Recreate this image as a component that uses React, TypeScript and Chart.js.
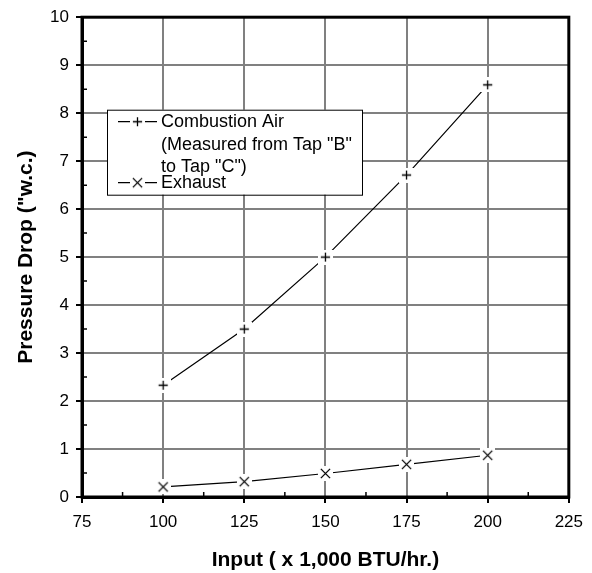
import React, { useEffect, useRef } from 'react';
import { Chart, registerables } from 'chart.js';

Chart.register(...registerables);

// ---- data ----
const inputs = [100, 125, 150, 175, 200];
const combustionAir = [2.33, 3.5, 5.0, 6.71, 8.59];
const exhaust = [0.21, 0.32, 0.49, 0.68, 0.87];
const seriesLabels = ['Combustion Air', 'Exhaust'];
const legendText = [['Combustion Air', '(Measured from Tap "B"', 'to Tap "C")'], ['Exhaust']];
const xTitle = 'Input ( x 1,000 BTU/hr.)';
const yTitle = 'Pressure Drop ("w.c.)';
const xRange = [75, 225];
const yRange = [0, 10];
const xStep = 25;
const yStep = 1;

const FONT = '"Liberation Sans", Arial, Helvetica, sans-serif';

function makeMarker(kind: 'plus' | 'cross'): HTMLCanvasElement {
  const s = 15;
  const c = document.createElement('canvas');
  c.width = s;
  c.height = s;
  const ctx = c.getContext('2d')!;
  ctx.fillStyle = '#ffffff';
  ctx.fillRect(0, 0, s, s);
  ctx.strokeStyle = '#000000';
  ctx.lineWidth = 1.3;
  const m = s / 2;
  const r = 4.6;
  ctx.beginPath();
  if (kind === 'plus') {
    ctx.moveTo(m - r, m);
    ctx.lineTo(m + r, m);
    ctx.moveTo(m, m - r);
    ctx.lineTo(m, m + r);
  } else {
    ctx.moveTo(m - r, m - r);
    ctx.lineTo(m + r, m + r);
    ctx.moveTo(m + r, m - r);
    ctx.lineTo(m - r, m + r);
  }
  ctx.stroke();
  return c;
}

const framePlugin = {
  id: 'frameAndMinor',
  afterDatasetsDraw(chart: any) {
    const { ctx, chartArea, scales } = chart;
    const xs = scales.x;
    const ys = scales.y;
    ctx.save();
    ctx.strokeStyle = '#000';
    ctx.lineWidth = 1.5;
    ctx.beginPath();
    for (let v = yRange[0] + yStep / 2; v < yRange[1]; v += yStep) {
      const py = ys.getPixelForValue(v);
      ctx.moveTo(chartArea.left, py);
      ctx.lineTo(chartArea.left + 5, py);
    }
    for (let v = xRange[0] + xStep / 2; v < xRange[1]; v += xStep) {
      const px = xs.getPixelForValue(v);
      ctx.moveTo(px, chartArea.bottom);
      ctx.lineTo(px, chartArea.bottom - 5);
    }
    ctx.stroke();
    ctx.lineWidth = 3;
    ctx.strokeRect(chartArea.left, chartArea.top, chartArea.right - chartArea.left, chartArea.bottom - chartArea.top);
    ctx.restore();
  },
};

const legendPlugin = {
  id: 'boxLegend',
  afterDraw(chart: any) {
    const { ctx, chartArea } = chart;
    const left = chartArea.left + 25;
    const top = chartArea.top + 92.5;
    const w = 255;
    const h = 85;
    ctx.save();
    ctx.fillStyle = '#fff';
    ctx.fillRect(left, top, w, h);
    ctx.strokeStyle = '#000';
    ctx.lineWidth = 1;
    ctx.strokeRect(left + 0.5, top + 0.5, w, h);
    ctx.font = '18px ' + FONT;
    ctx.textBaseline = 'middle';
    ctx.fillStyle = '#000';
    const textX = left + 54;
    const rowY = [[12, 35.5, 57], [73]];
    chart.data.datasets.forEach((ds: any, i: number) => {
      const lines = legendText[i];
      lines.forEach((t: string, j: number) => {
        ctx.fillText(t, textX, top + rowY[i][j]);
      });
      const sy = top + rowY[i][0];
      ctx.strokeStyle = '#000';
      ctx.lineWidth = 1.2;
      ctx.beginPath();
      ctx.moveTo(left + 11, sy);
      ctx.lineTo(left + 50, sy);
      ctx.stroke();
      const img: HTMLCanvasElement = ds.pointStyle;
      ctx.drawImage(img, left + 30.5 - img.width / 2, sy - img.height / 2);
    });
    ctx.restore();
  },
};

export default function App() {
  const ref = useRef<HTMLCanvasElement | null>(null);
  useEffect(() => {
    if (!ref.current) return;
    const plus = makeMarker('plus');
    const cross = makeMarker('cross');
    const chart = new Chart(ref.current, {
      type: 'line',
      data: {
        datasets: [
          {
            label: seriesLabels[0],
            data: inputs.map((x, i) => ({ x, y: combustionAir[i] })),
            borderColor: '#000',
            borderWidth: 1.2,
            pointStyle: plus as any,
            tension: 0,
          },
          {
            label: seriesLabels[1],
            data: inputs.map((x, i) => ({ x, y: exhaust[i] })),
            borderColor: '#000',
            borderWidth: 1.2,
            pointStyle: cross as any,
            tension: 0,
          },
        ],
      },
      options: {
        animation: false,
        responsive: false,
        layout: { padding: { top: 13.5, right: 23, left: 0, bottom: 0 } },
        plugins: { legend: { display: false }, tooltip: { enabled: false } },
        scales: {
          x: {
            type: 'linear',
            min: xRange[0],
            max: xRange[1],
            afterFit: (s: any) => {
              s.height = 76;
            },
            ticks: { stepSize: xStep, color: '#000', font: { size: 17, family: FONT }, padding: 9, maxRotation: 0 },
            grid: { color: '#808080', lineWidth: 2, tickColor: '#000', tickLength: 6, tickWidth: 2 },
            border: { color: '#000', width: 3 },
            title: { display: true, text: xTitle, color: '#000', font: { size: 21, weight: 'bold', family: FONT }, padding: { top: 0, bottom: 0 } },
          },
          y: {
            type: 'linear',
            min: yRange[0],
            max: yRange[1],
            afterFit: (s: any) => {
              s.width = 82;
            },
            ticks: { stepSize: yStep, color: '#000', font: { size: 17, family: FONT }, padding: 7 },
            grid: { color: '#808080', lineWidth: 2, tickColor: '#000', tickLength: 6, tickWidth: 2 },
            border: { color: '#000', width: 3 },
            title: { display: true, text: yTitle, color: '#000', font: { size: 21, weight: 'bold', family: FONT }, padding: { top: 14, bottom: 0 } },
          },
        },
      },
      plugins: [framePlugin, legendPlugin],
    } as any);
    return () => chart.destroy();
  }, []);
  return (
    <div style={{ position: 'absolute', left: 0, top: 0, width: 592, height: 573, background: '#fff' }}>
      <canvas ref={ref} width={592} height={573} style={{ display: 'block', width: 592, height: 573 }} />
    </div>
  );
}
